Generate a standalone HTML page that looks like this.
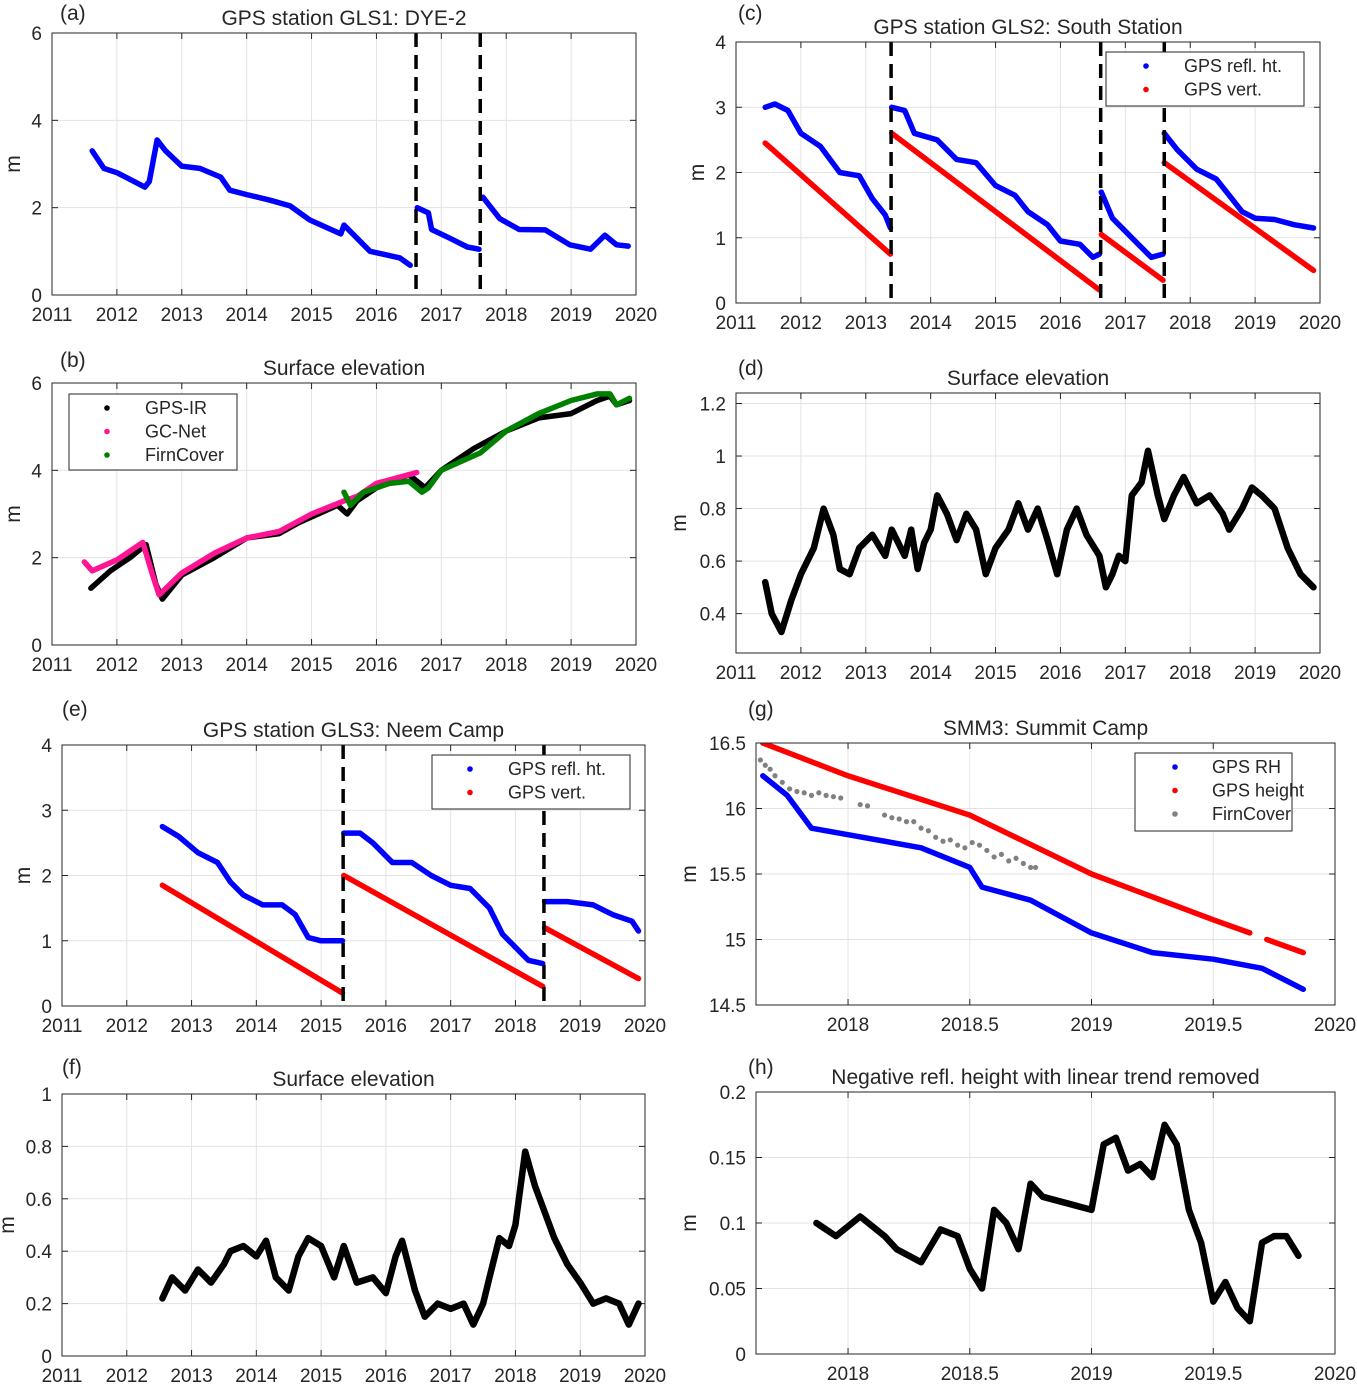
<!DOCTYPE html>
<html><head><meta charset="utf-8"><style>
body{margin:0;background:#fff}
svg{display:block;font-family:"Liberation Sans",sans-serif}
</style></head><body>
<svg id="fig" width="1357" height="1385" viewBox="0 0 1357 1385"></svg>
<script>
// ---- data (year / value; null splits segments) ----
const aYears=[2011.62,2011.8,2012.0,2012.2,2012.43,2012.5,2012.62,2012.75,2013.0,2013.28,2013.6,2013.74,2014.0,2014.36,2014.67,2014.97,2015.3,2015.45,2015.5,2015.9,2016.36,2016.52,null,2016.63,2016.8,2016.85,2017.13,2017.4,2017.58,null,2017.64,2017.9,2018.2,2018.6,2018.98,2019.3,2019.52,2019.7,2019.88];
const aVals=[3.3,2.9,2.8,2.65,2.47,2.6,3.55,3.3,2.95,2.9,2.7,2.4,2.3,2.17,2.04,1.72,1.5,1.4,1.6,1.0,0.85,0.68,null,2.0,1.88,1.5,1.3,1.1,1.05,null,2.24,1.75,1.5,1.49,1.15,1.05,1.37,1.15,1.12];
const bBlackYears=[2011.6,2011.9,2012.2,2012.45,2012.6,2012.7,2013.0,2013.5,2014.0,2014.5,2014.8,2015.4,2015.55,2015.7,2016.0,2016.5,2016.75,2017.0,2017.5,2018.0,2018.5,2019.0,2019.4,2019.6,2019.7,2019.9];
const bBlackVals=[1.3,1.7,2.0,2.3,1.4,1.05,1.6,2.0,2.45,2.55,2.8,3.2,3.0,3.3,3.6,3.9,3.6,4.0,4.5,4.9,5.2,5.3,5.6,5.7,5.5,5.6];
const bPinkYears=[2011.5,2011.62,2012.0,2012.4,2012.55,2012.65,2013.0,2013.5,2014.0,2014.5,2015.0,2015.5,2015.7,2016.0,2016.5,2016.62];
const bPinkVals=[1.9,1.7,1.95,2.35,1.6,1.15,1.65,2.1,2.45,2.6,3.0,3.3,3.4,3.7,3.9,3.95];
const bGreenYears=[2015.5,2015.6,2015.8,2016.2,2016.5,2016.7,2016.8,2017.0,2017.6,2018.0,2018.5,2019.0,2019.4,2019.6,2019.7,2019.9];
const bGreenVals=[3.5,3.2,3.5,3.7,3.75,3.5,3.6,4.0,4.4,4.9,5.3,5.6,5.75,5.75,5.5,5.65];
const cBlueYears=[2011.45,2011.6,2011.8,2012.0,2012.3,2012.6,2012.9,2013.1,2013.3,2013.38,null,2013.4,2013.6,2013.75,2014.1,2014.4,2014.7,2015.0,2015.3,2015.5,2015.8,2016.0,2016.3,2016.5,2016.6,null,2016.63,2016.8,2017.0,2017.2,2017.4,2017.58,null,2017.6,2017.8,2018.1,2018.4,2018.6,2018.8,2019.0,2019.3,2019.6,2019.9];
const cBlueVals=[3.0,3.05,2.95,2.6,2.4,2.0,1.95,1.6,1.35,1.15,null,3.0,2.95,2.6,2.5,2.2,2.15,1.8,1.65,1.4,1.2,0.95,0.9,0.7,0.75,null,1.7,1.3,1.1,0.9,0.7,0.75,null,2.6,2.35,2.05,1.9,1.65,1.4,1.3,1.28,1.2,1.15];
const cRedYears=[2011.45,2013.38,null,2013.4,2016.6,null,2016.63,2017.58,null,2017.6,2019.9];
const cRedVals=[2.45,0.75,null,2.6,0.2,null,1.05,0.35,null,2.15,0.5];
const dYears=[2011.45,2011.55,2011.7,2011.85,2012.0,2012.2,2012.35,2012.5,2012.6,2012.75,2012.9,2013.1,2013.3,2013.4,2013.6,2013.7,2013.8,2013.9,2014.0,2014.1,2014.25,2014.4,2014.55,2014.7,2014.85,2015.0,2015.2,2015.35,2015.5,2015.65,2015.8,2015.95,2016.1,2016.25,2016.4,2016.6,2016.7,2016.8,2016.9,2017.0,2017.1,2017.25,2017.35,2017.5,2017.6,2017.75,2017.9,2018.1,2018.3,2018.5,2018.6,2018.8,2018.95,2019.1,2019.3,2019.5,2019.7,2019.9];
const dVals=[0.52,0.4,0.33,0.45,0.55,0.65,0.8,0.7,0.57,0.55,0.65,0.7,0.62,0.72,0.62,0.72,0.57,0.67,0.72,0.85,0.78,0.68,0.78,0.72,0.55,0.65,0.72,0.82,0.72,0.8,0.68,0.55,0.72,0.8,0.7,0.62,0.5,0.55,0.62,0.6,0.85,0.9,1.02,0.85,0.76,0.85,0.92,0.82,0.85,0.78,0.72,0.8,0.88,0.85,0.8,0.65,0.55,0.5];
const eBlueYears=[2012.55,2012.8,2013.1,2013.4,2013.6,2013.8,2014.1,2014.4,2014.6,2014.8,2015.0,2015.33,null,2015.35,2015.6,2015.8,2016.1,2016.4,2016.7,2017.0,2017.3,2017.6,2017.8,2018.1,2018.2,2018.42,null,2018.45,2018.8,2019.2,2019.5,2019.8,2019.9];
const eBlueVals=[2.75,2.6,2.35,2.2,1.9,1.7,1.55,1.55,1.4,1.05,1.0,1.0,null,2.65,2.65,2.5,2.2,2.2,2.0,1.85,1.8,1.5,1.1,0.8,0.7,0.65,null,1.6,1.6,1.55,1.4,1.3,1.15];
const eRedYears=[2012.55,2015.33,null,2015.35,2018.42,null,2018.45,2019.9];
const eRedVals=[1.85,0.2,null,2.0,0.3,null,1.2,0.42];
const fYears=[2012.55,2012.7,2012.9,2013.1,2013.3,2013.5,2013.6,2013.8,2014.0,2014.15,2014.3,2014.5,2014.65,2014.8,2015.0,2015.2,2015.35,2015.55,2015.8,2016.0,2016.15,2016.25,2016.45,2016.6,2016.8,2017.0,2017.2,2017.35,2017.5,2017.6,2017.75,2017.9,2018.0,2018.15,2018.3,2018.45,2018.6,2018.8,2019.0,2019.2,2019.4,2019.6,2019.75,2019.9];
const fVals=[0.22,0.3,0.25,0.33,0.28,0.35,0.4,0.42,0.38,0.44,0.3,0.25,0.38,0.45,0.42,0.3,0.42,0.28,0.3,0.24,0.38,0.44,0.25,0.15,0.2,0.18,0.2,0.12,0.2,0.3,0.45,0.42,0.5,0.78,0.65,0.55,0.45,0.35,0.28,0.2,0.22,0.2,0.12,0.2];
const gRedYears=[2017.65,2018.0,2018.5,2019.0,2019.5,2019.65,null,2019.72,2019.87];
const gRedVals=[16.5,16.25,15.95,15.5,15.15,15.05,null,15.0,14.9];
const gBlueYears=[2017.65,2017.75,2017.85,2018.0,2018.3,2018.5,2018.55,2018.75,2019.0,2019.25,2019.5,2019.7,2019.87];
const gBlueVals=[16.25,16.1,15.85,15.8,15.7,15.55,15.4,15.3,15.05,14.9,14.85,14.78,14.62];
const gGrayYears=[2017.64,2017.66,2017.68,2017.7,2017.73,2017.76,2017.79,2017.82,2017.85,2017.88,2017.91,2017.94,2017.97,2018.05,2018.08,2018.15,2018.18,2018.21,2018.24,2018.27,2018.3,2018.33,2018.36,2018.39,2018.42,2018.45,2018.48,2018.51,2018.54,2018.57,2018.6,2018.63,2018.66,2018.69,2018.72,2018.75,2018.77];
const gGrayVals=[16.37,16.33,16.3,16.25,16.2,16.15,16.13,16.12,16.1,16.12,16.1,16.09,16.08,16.03,16.02,15.95,15.93,15.92,15.9,15.9,15.85,15.83,15.78,15.75,15.76,15.72,15.7,15.74,15.72,15.68,15.63,15.65,15.6,15.62,15.58,15.55,15.55];
const hYears=[2017.87,2017.95,2018.05,2018.15,2018.2,2018.3,2018.38,2018.45,2018.5,2018.55,2018.6,2018.65,2018.7,2018.75,2018.8,2018.9,2019.0,2019.05,2019.1,2019.15,2019.2,2019.25,2019.3,2019.35,2019.4,2019.45,2019.5,2019.55,2019.6,2019.65,2019.7,2019.75,2019.8,2019.85];
const hVals=[0.1,0.09,0.105,0.09,0.08,0.07,0.095,0.09,0.065,0.05,0.11,0.1,0.08,0.13,0.12,0.115,0.11,0.16,0.165,0.14,0.145,0.135,0.175,0.16,0.11,0.085,0.04,0.055,0.035,0.025,0.085,0.09,0.09,0.075];
const yearTicks=[2011,2012,2013,2014,2015,2016,2017,2018,2019,2020];
const halfTicks=[2018,2018.5,2019,2019.5,2020];

const NS='http://www.w3.org/2000/svg';
const svg=document.getElementById('fig');
function mk(tag,attrs,parent){const e=document.createElementNS(NS,tag);for(const k in attrs)e.setAttribute(k,attrs[k]);(parent||svg).appendChild(e);return e;}
function txt(s,x,y,size,anchor,parent){const t=mk('text',{x:x,y:y,'font-size':size,'text-anchor':anchor||'middle',fill:'#262626'},parent);t.textContent=s;return t;}

function axes(o){
  const g=mk('g',{});
  
  
  const X=v=>o.x0+(v-o.xl[0])/(o.xl[1]-o.xl[0])*(o.x1-o.x0);
  const Y=v=>o.y1-(v-o.yl[0])/(o.yl[1]-o.yl[0])*(o.y1-o.y0);
  mk('rect',{x:o.x0,y:o.y0,width:o.x1-o.x0,height:o.y1-o.y0,fill:'#fff'},g);
  o.xt.forEach(v=>{const x=X(v);mk('line',{x1:x,x2:x,y1:o.y0,y2:o.y1,stroke:'#e3e3e3','stroke-width':1},g);
    mk('line',{x1:x,x2:x,y1:o.y1,y2:o.y1-6,stroke:'#262626'},g);mk('line',{x1:x,x2:x,y1:o.y0,y2:o.y0+6,stroke:'#262626'},g);
    const t=txt(String(v),x,o.y1+26,19,'middle',g);});
  o.yt.forEach(v=>{const y=Y(v);mk('line',{x1:o.x0,x2:o.x1,y1:y,y2:y,stroke:'#e3e3e3','stroke-width':1},g);
    mk('line',{x1:o.x0,x2:o.x0+6,y1:y,y2:y,stroke:'#262626'},g);mk('line',{x1:o.x1,x2:o.x1-6,y1:y,y2:y,stroke:'#262626'},g);
    const t=txt(String(v),o.x0-10,y+7,19,'end',g);});
  const title=txt(o.title,(o.x0+o.x1)/2,o.y0-8,21,'middle',g);
  
  
  const pl=txt(o.label,o.lx,o.ly,21,'start',g);
  
  
  const ym=txt('m',0,0,21,'middle',g);
  ym.setAttribute('transform','translate('+o.mx+','+((o.y0+o.y1)/2)+') rotate(-90)');
  
  
  const clipId='c'+o.label.replace(/\W/g,'');
  const cp=mk('clipPath',{id:clipId},g);mk('rect',{x:o.x0,y:o.y0,width:o.x1-o.x0,height:o.y1-o.y0},cp);
  const plot=mk('g',{'clip-path':'url(#'+clipId+')'},g);
  (o.series||[]).forEach(s=>{
    if(s.dots){s.xs.forEach((xv,i)=>{const c=mk('circle',{cx:X(xv),cy:Y(s.ys[i]),r:2.6,fill:s.color},plot);});return;}
    let pts=[];const flush=()=>{if(pts.length){const p=mk('polyline',{points:pts.join(' '),fill:'none',stroke:s.color,'stroke-width':s.w||5.5,'stroke-linejoin':'round','stroke-linecap':'round'},plot);}pts=[];};
    s.xs.forEach((xv,i)=>{if(xv===null||s.ys[i]===null){flush();return;}pts.push(X(xv).toFixed(1)+','+Y(s.ys[i]).toFixed(1));});flush();
  });
  (o.dashes||[]).forEach(d=>{const l=mk('line',{x1:X(d),x2:X(d),y1:o.y0,y2:o.y1,stroke:'#000','stroke-width':3.5,'stroke-dasharray':'14,8'},g);});
  mk('rect',{x:o.x0,y:o.y0,width:o.x1-o.x0,height:o.y1-o.y0,fill:'none',stroke:'#262626','stroke-width':1},g);
  if(o.legend){const L=o.legend;const lg=mk('g',{},g);
    mk('rect',{x:L.x,y:L.y,width:L.w,height:L.h,fill:'#fff',stroke:'#262626'},lg);
    L.items.forEach((it,i)=>{const yy=L.y+14+i*23.5;const c=mk('circle',{cx:L.x+L.dx,cy:yy,r:2.8,fill:it[1]},lg);
      const t=txt(it[0],L.x+L.tx,yy+6,18,'start',lg);});}
}

axes({name:'panel-a',label:'(a)',lx:60,ly:20,title:'GPS station GLS1:  DYE-2',x0:52,x1:636,y0:33,y1:295,mx:20,xl:[2011,2020],yl:[0,6],xt:yearTicks,yt:[0,2,4,6],
  series:[{name:'gps-refl-ht',xs:aYears,ys:aVals,color:'#0000ff'}],dashes:[2016.61,2017.6]});
axes({name:'panel-b',label:'(b)',lx:60,ly:367,title:'Surface elevation',x0:52,x1:636,y0:383,y1:645,mx:20,xl:[2011,2020],yl:[0,6],xt:yearTicks,yt:[0,2,4,6],
  series:[{name:'gps-ir',xs:bBlackYears,ys:bBlackVals,color:'#000'},{name:'gc-net',xs:bPinkYears,ys:bPinkVals,color:'#ff1493'},{name:'firncover',xs:bGreenYears,ys:bGreenVals,color:'#008000'}],
  legend:{x:69,y:394,w:168,h:76,dx:38,tx:76,items:[['GPS-IR','#000'],['GC-Net','#ff1493'],['FirnCover','#008000']]}});
axes({name:'panel-c',label:'(c)',lx:738,ly:20,title:'GPS station GLS2:  South Station',x0:736,x1:1320,y0:42,y1:303,mx:704,xl:[2011,2020],yl:[0,4],xt:yearTicks,yt:[0,1,2,3,4],
  series:[{name:'gps-refl-ht',xs:cBlueYears,ys:cBlueVals,color:'#0000ff'},{name:'gps-vert',xs:cRedYears,ys:cRedVals,color:'#ff0000'}],dashes:[2013.39,2016.62,2017.6],
  legend:{x:1106,y:52,w:198,h:54,dx:40,tx:78,items:[['GPS  refl. ht.','#0000ff'],['GPS vert.','#ff0000']]}});
axes({name:'panel-d',label:'(d)',lx:738,ly:375,title:'Surface elevation',x0:736,x1:1320,y0:393,y1:653,mx:686,xl:[2011,2020],yl:[0.25,1.24],xt:yearTicks,yt:[0.4,0.6,0.8,1,1.2],
  series:[{name:'surface-elevation',xs:dYears,ys:dVals,color:'#000',w:6.5}]});
axes({name:'panel-e',label:'(e)',lx:62,ly:716,title:'GPS station GLS3:  Neem Camp',x0:62,x1:645,y0:745,y1:1006,mx:30,xl:[2011,2020],yl:[0,4],xt:yearTicks,yt:[0,1,2,3,4],
  series:[{name:'gps-refl-ht',xs:eBlueYears,ys:eBlueVals,color:'#0000ff'},{name:'gps-vert',xs:eRedYears,ys:eRedVals,color:'#ff0000'}],dashes:[2015.34,2018.44],
  legend:{x:432,y:755,w:198,h:54,dx:38,tx:76,items:[['GPS  refl. ht.','#0000ff'],['GPS vert.','#ff0000']]}});
axes({name:'panel-g',label:'(g)',lx:748,ly:716,title:'SMM3: Summit Camp',x0:756,x1:1335,y0:743,y1:1005,mx:696,xl:[2017.622,2020],yl:[14.5,16.5],xt:halfTicks,yt:[14.5,15,15.5,16,16.5],
  series:[{name:'gps-height',xs:gRedYears,ys:gRedVals,color:'#ff0000'},{name:'gps-rh',xs:gBlueYears,ys:gBlueVals,color:'#0000ff'},{name:'firncover',xs:gGrayYears,ys:gGrayVals,color:'#808080',dots:true}],
  legend:{x:1135,y:753,w:157,h:78,dx:40,tx:77,items:[['GPS RH','#0000ff'],['GPS height','#ff0000'],['FirnCover','#808080']]}});
axes({name:'panel-f',label:'(f)',lx:62,ly:1074,title:'Surface elevation',x0:62,x1:645,y0:1094,y1:1356,mx:14,xl:[2011,2020],yl:[0,1],xt:yearTicks,yt:[0,0.2,0.4,0.6,0.8,1],
  series:[{name:'surface-elevation',xs:fYears,ys:fVals,color:'#000',w:6.5}]});
axes({name:'panel-h',label:'(h)',lx:748,ly:1074,title:'Negative refl. height with linear trend removed',x0:756,x1:1335,y0:1092,y1:1354,mx:696,xl:[2017.622,2020],yl:[0,0.2],xt:halfTicks,yt:[0,0.05,0.1,0.15,0.2],
  series:[{name:'detrended-refl-height',xs:hYears,ys:hVals,color:'#000',w:6.5}]});
</script>
</body></html>
